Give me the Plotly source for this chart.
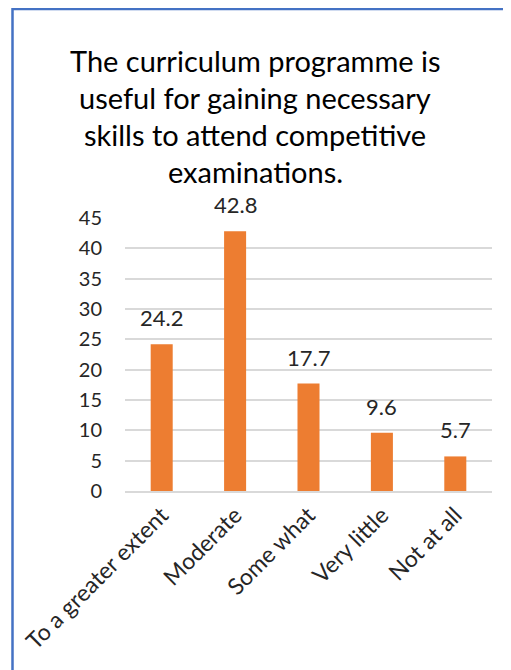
import plotly.graph_objects as go

categories = ["To a greater extent", "Moderate", "Some what", "Very little", "Not at all"]
values = [24.2, 42.8, 17.7, 9.6, 5.7]
y_ticks = [0, 5, 10, 15, 20, 25, 30, 35, 40, 45]
title_lines = ["The curriculum programme is", "useful for gaining necessary",
               "skills to attend competitive", "examinations."]

FONT = "Lato"
OFF = 8  # page body margin offset
W, H = 511, 670
L, R, T, B = 125 - OFF, 19 + OFF, 218 - OFF, 179 + OFF
pw, ph = W - L - R, H - T - B
TXT = "#262626"

fig = go.Figure(go.Bar(
    x=categories, y=values,
    marker=dict(color="#ED7D31", line=dict(width=0)),
    cliponaxis=False,
))

# data labels
for c, v in zip(categories, values):
    fig.add_annotation(x=c, y=v, text=f"{v}", showarrow=False,
                       xanchor="center", yanchor="bottom", yshift=11,
                       font=dict(family=FONT, size=22, color=TXT))

fig.update_layout(
    width=W, height=H,
    margin=dict(l=L, r=R, t=T, b=B),
    paper_bgcolor="white", plot_bgcolor="white",
    bargap=0.7, showlegend=False,
    font=dict(family=FONT, color=TXT),
)
fig.update_yaxes(range=[0, 45], tickvals=y_ticks, showgrid=True, gridcolor="#D9D9D9",
                 gridwidth=1.5, zeroline=False, showline=False,
                 tickfont=dict(family=FONT, size=20, color=TXT),
                 ticklabelstandoff=22)
fig.update_xaxes(tickangle=-45, showline=True, linecolor="#D9D9D9", linewidth=1.5,
                 tickfont=dict(family=FONT, size=23, color=TXT))

# title lines
for i, line in enumerate(title_lines):
    py = 60 + i * 37 - OFF
    fig.add_annotation(text=line, xref="paper", yref="paper",
                       x=(255 - OFF - L) / pw, y=(H - B - py) / ph,
                       xanchor="center", yanchor="middle", showarrow=False,
                       font=dict(family=FONT, size=29, color="#000000"))

# chart border
fig.add_shape(type="rect", xref="paper", yref="paper",
              x0=(12.5 - OFF - L) / pw, x1=2, y0=(H - B - (9 - OFF)) / ph, y1=-2,
              line=dict(color="#4472C4", width=2.5))

fig.write_html("out.html")
